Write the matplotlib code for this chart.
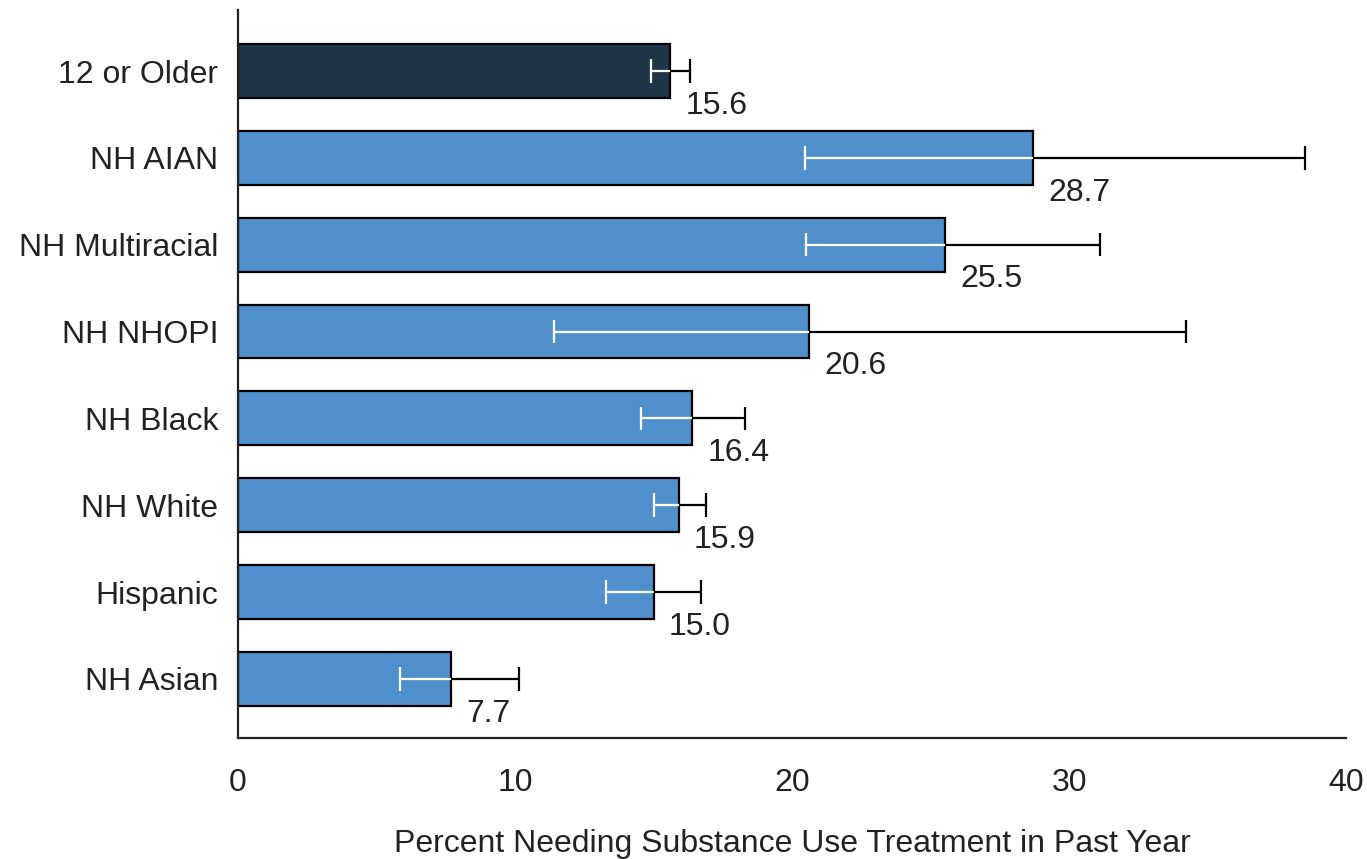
import matplotlib
matplotlib.use("Agg")
import matplotlib.pyplot as plt

# data
groups = ["12 or Older", "NH AIAN", "NH Multiracial", "NH NHOPI",
          "NH Black", "NH White", "Hispanic", "NH Asian"]
values = [15.6, 28.7, 25.5, 20.6, 16.4, 15.9, 15.0, 7.7]
ci_low = [14.9, 20.45, 20.5, 11.4, 14.55, 15.0, 13.3, 5.85]
ci_high = [16.3, 38.5, 31.1, 34.2, 18.3, 16.9, 16.7, 10.15]

plt.rcParams["font.family"] = ["Liberation Sans Narrow", "Liberation Sans", "DejaVu Sans"]
FS = 23

fig = plt.figure(figsize=(13.67, 8.59), dpi=100)
ax = fig.add_axes([0.174, 0.141, 0.811, 0.847])

ypos = list(range(len(groups)))
colors = ["#1f3649"] + ["#4f90cc"] * (len(groups) - 1)
ax.barh(ypos, values, height=0.62, color=colors, edgecolor="black", linewidth=1.6, zorder=2)

# error bars: white inside the bar, black outside
ax.hlines(ypos, ci_low, values, colors="white", linewidth=1.6, zorder=3)
ax.hlines(ypos, values, ci_high, colors="black", linewidth=1.6, zorder=3)
ax.vlines(ci_low, [y - 0.135 for y in ypos], [y + 0.135 for y in ypos],
          colors="white", linewidth=1.6, zorder=3)
ax.vlines(ci_high, [y - 0.135 for y in ypos], [y + 0.135 for y in ypos],
          colors="black", linewidth=1.6, zorder=3)

# value labels just below-right of bar ends
for y, v in zip(ypos, values):
    ax.annotate(f"{v:.1f}", (v, y + 0.40), xytext=(11, 0), textcoords="offset points",
                ha="left", va="center", fontsize=FS, color="#222222")

ax.set_xlim(0, 40)
ax.set_ylim(len(groups) - 1 + 0.68, -0.70)
ax.set_xticks([0, 10, 20, 30, 40])
ax.set_yticks(ypos)
ax.set_yticklabels(groups)
ax.tick_params(axis="both", length=0, labelsize=FS, colors="#222222")
ax.tick_params(axis="x", pad=22)
ax.tick_params(axis="y", pad=14)
ax.set_xlabel("Percent Needing Substance Use Treatment in Past Year",
              fontsize=FS, color="#222222")
ax.xaxis.set_label_coords(0.5, -0.125)

for side in ["top", "right"]:
    ax.spines[side].set_visible(False)
for side in ["left", "bottom"]:
    ax.spines[side].set_linewidth(1.6)
    ax.spines[side].set_color("#222222")

fig.savefig("out.png", dpi=100)
